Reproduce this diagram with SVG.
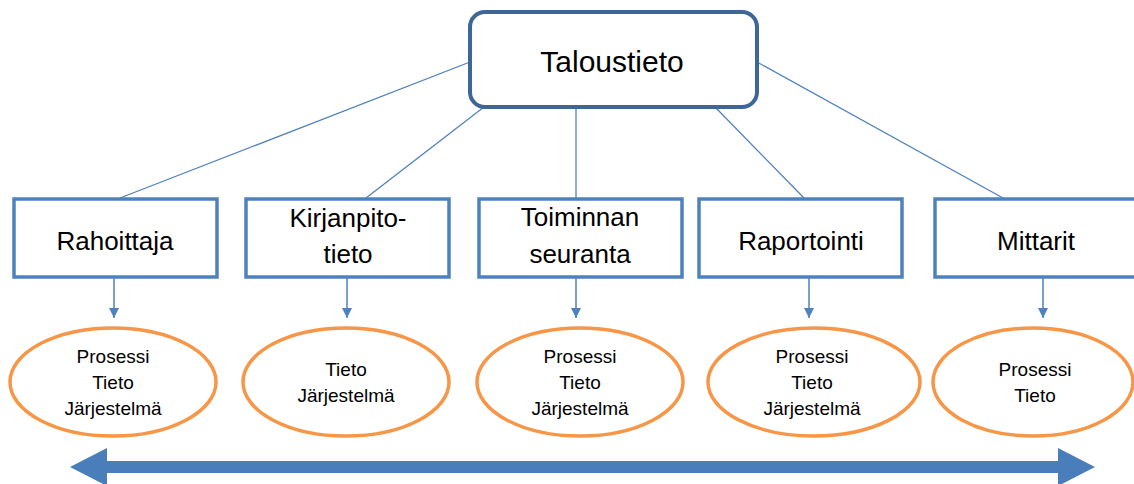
<svg xmlns="http://www.w3.org/2000/svg" width="1134" height="484" viewBox="0 0 1134 484">
  <defs>
    <marker id="tri" viewBox="0 0 10 10" refX="10" refY="5" markerWidth="10" markerHeight="10" markerUnits="userSpaceOnUse" orient="auto">
      <path d="M0,0 L10,5 L0,10 Z" fill="#4f81bd"/>
    </marker>
    <style>
      .conn { stroke: #4f81bd; stroke-width: 1.3; fill: none; }
      .down { stroke: #4f81bd; stroke-width: 1.5; fill: none; marker-end: url(#tri); }
      .root { fill: #ffffff; stroke: #3d6796; stroke-width: 4; }
      .box { fill: #ffffff; stroke: #4f81bd; stroke-width: 3.5; }
      .oval { fill: #ffffff; stroke: #f79646; stroke-width: 3.5; }
      text { font-family: "Liberation Sans", Arial, sans-serif; fill: #000000; text-anchor: middle; }
      .t-root { font-size: 30px; }
      .t-box { font-size: 26px; }
      .t-oval { font-size: 19px; }
    </style>
  </defs>

  <rect width="1134" height="484" fill="#ffffff"/>

  <!-- connectors -->
  <g id="connectors">
    <line class="conn" x1="470" y1="62" x2="120" y2="198"/>
    <line class="conn" x1="484" y1="107" x2="366" y2="198"/>
    <line class="conn" x1="576" y1="107" x2="576" y2="198"/>
    <line class="conn" x1="715" y1="107" x2="804" y2="198"/>
    <line class="conn" x1="757" y1="62" x2="1003" y2="198"/>

    <line class="down" x1="114" y1="278" x2="114" y2="318"/>
    <line class="down" x1="347" y1="278" x2="347" y2="318"/>
    <line class="down" x1="576" y1="278" x2="576" y2="318"/>
    <line class="down" x1="809" y1="278" x2="809" y2="318"/>
    <line class="down" x1="1043" y1="278" x2="1043" y2="318"/>

    <!-- double-headed span arrow -->
    <path d="M70,467 L107,448 L107,461 L1058,461 L1058,448 L1095,467 L1058,486 L1058,473 L107,473 L107,486 Z" fill="#4a7ebb"/>
  </g>

  <!-- root node -->
  <g id="node-taloustieto">
    <rect class="root" x="470" y="12" width="287" height="95" rx="15" ry="15"/>
    <text class="t-root" x="612" y="72">Taloustieto</text>
  </g>

  <!-- second level -->
  <g id="node-rahoittaja">
    <rect class="box" x="14" y="199" width="203" height="78"/>
    <text class="t-box" x="115" y="250">Rahoittaja</text>
  </g>
  <g id="node-kirjanpitotieto">
    <rect class="box" x="246" y="199" width="203" height="78"/>
    <text class="t-box" x="348" y="227">Kirjanpito-</text>
    <text class="t-box" x="348" y="263">tieto</text>
  </g>
  <g id="node-toiminnan-seuranta">
    <rect class="box" x="479" y="199" width="203" height="78"/>
    <text class="t-box" x="580" y="226">Toiminnan</text>
    <text class="t-box" x="580" y="263">seuranta</text>
  </g>
  <g id="node-raportointi">
    <rect class="box" x="699" y="199" width="203" height="78"/>
    <text class="t-box" x="801" y="250">Raportointi</text>
  </g>
  <g id="node-mittarit">
    <rect class="box" x="935" y="199" width="203" height="78"/>
    <text class="t-box" x="1036" y="250">Mittarit</text>
  </g>

  <!-- third level -->
  <g id="node-oval-1">
    <ellipse class="oval" cx="113" cy="382" rx="103" ry="54"/>
    <text class="t-oval" x="113" y="363">Prosessi</text>
    <text class="t-oval" x="113" y="389">Tieto</text>
    <text class="t-oval" x="113" y="415">Järjestelmä</text>
  </g>
  <g id="node-oval-2">
    <ellipse class="oval" cx="346" cy="382" rx="103" ry="54"/>
    <text class="t-oval" x="346" y="376">Tieto</text>
    <text class="t-oval" x="346" y="402">Järjestelmä</text>
  </g>
  <g id="node-oval-3">
    <ellipse class="oval" cx="580" cy="382" rx="103" ry="54"/>
    <text class="t-oval" x="580" y="363">Prosessi</text>
    <text class="t-oval" x="580" y="389">Tieto</text>
    <text class="t-oval" x="580" y="415">Järjestelmä</text>
  </g>
  <g id="node-oval-4">
    <ellipse class="oval" cx="814" cy="382" rx="106" ry="54"/>
    <text class="t-oval" x="812" y="363">Prosessi</text>
    <text class="t-oval" x="812" y="389">Tieto</text>
    <text class="t-oval" x="812" y="415">Järjestelmä</text>
  </g>
  <g id="node-oval-5">
    <ellipse class="oval" cx="1033" cy="382" rx="100" ry="54"/>
    <text class="t-oval" x="1035" y="376">Prosessi</text>
    <text class="t-oval" x="1035" y="402">Tieto</text>
  </g>
</svg>
